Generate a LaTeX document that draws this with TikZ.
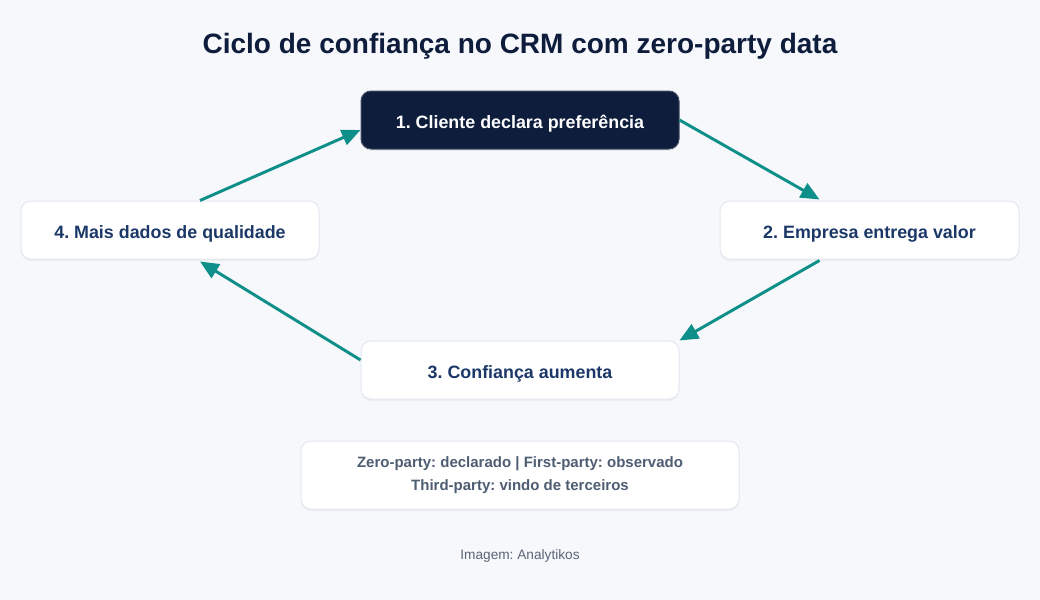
\documentclass[tikz,border=0pt]{standalone}
\usepackage{fontspec}
\setmainfont{Liberation Sans}
\frenchspacing
\usetikzlibrary{arrows.meta,shadows,calc}
\definecolor{bg}{HTML}{F6F8FB}
\definecolor{navy}{HTML}{0F1D3D}
\definecolor{nodetext}{HTML}{1B3868}
\definecolor{teal}{HTML}{0F8F89}
\definecolor{bordergray}{HTML}{E3E7EE}
\definecolor{legendtext}{HTML}{4F5D73}
\definecolor{foot}{HTML}{5A6577}
\tikzset{
  box/.style={rounded corners=7.5pt, draw=bordergray, line width=0.75pt, fill=white,
    minimum height=43.5pt, inner sep=0pt, font=\bfseries\fontsize{13.4pt}{15pt}\selectfont,
    text=nodetext, drop shadow={opacity=0.08, shadow xshift=0pt, shadow yshift=-1.5pt}},
  stepbox/.style={box, text height=12pt, text depth=0pt},
  darkbox/.style={stepbox, fill=navy, draw=navy!80!white, text=white},
  flow/.style={draw=teal, line width=2.2pt, -{Triangle[length=14pt,width=12pt]}, shorten >=0pt}
}
\begin{document}
\begin{tikzpicture}[x=0.75pt,y=-0.75pt]
\fill[bg] (0,0) rectangle (1040,600);
\useasboundingbox (0,0) rectangle (1040,600);
\node[font=\bfseries\fontsize{21pt}{25pt}\selectfont, text=navy] (title) at (520,46) {Ciclo de confiança no CRM com zero-party data};
\node[darkbox, minimum width=238.5pt] (n1) at (520,120) {1. Cliente declara preferência};
\node[stepbox, minimum width=224.25pt] (n2) at (869.5,230) {2. Empresa entrega valor};
\node[stepbox, minimum width=238.5pt] (n3) at (520,370) {3. Confiança aumenta};
\node[stepbox, minimum width=223.5pt] (n4) at (170,230) {4. Mais dados de qualidade};
\node[box, minimum width=328.5pt, minimum height=51pt, text=legendtext,
  font=\bfseries\fontsize{11.25pt}{17.5pt}\selectfont, align=center] (legend) at (520,475)
  {Zero-party: declarado | First-party: observado\\Third-party: vindo de terceiros};
\node[font=\fontsize{10.25pt}{12pt}\selectfont, text=foot] (footer) at (520,556) {Imagem: Analytikos};
\coordinate (a1s) at (n1.east);
\coordinate (a1e) at ($(n2.north)+(-50,-1)$);
\coordinate (a2s) at ($(n2.south)+(-50,1)$);
\coordinate (a2e) at ($(n3.north east)+(0,0)$);
\coordinate (a3s) at ($(n3.west)+(0,-10)$);
\coordinate (a3e) at ($(n4.south)+(30,2)$);
\coordinate (a4s) at ($(n4.north)+(30,0)$);
\coordinate (a4e) at ($(n1.west)+(0,10)$);
\draw[flow] (a1s) -- (a1e);
\draw[flow] (a2s) -- (a2e);
\draw[flow] (a3s) -- (a3e);
\draw[flow] (a4s) -- (a4e);
\end{tikzpicture}
\end{document}
